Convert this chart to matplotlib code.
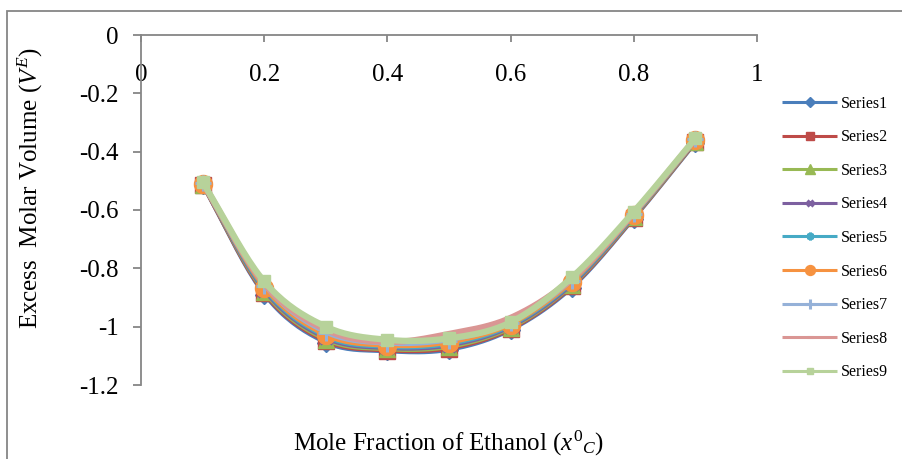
import numpy as np
import matplotlib
matplotlib.use("Agg")
import matplotlib.pyplot as plt
from matplotlib.patches import Rectangle


# ==========================================================
# Data
# ==========================================================

x_frac = [0.1, 0.2, 0.3, 0.4, 0.5, 0.6, 0.7, 0.8, 0.9]

series1 = [-0.515, -0.890, -1.055, -1.085, -1.080, -1.012, -0.866, -0.630, -0.370]
series2 = [-0.515, -0.886, -1.050, -1.082, -1.075, -1.009, -0.862, -0.628, -0.368]
series3 = [-0.513, -0.881, -1.045, -1.078, -1.070, -1.005, -0.858, -0.625, -0.366]
series4 = [-0.512, -0.876, -1.040, -1.074, -1.065, -1.001, -0.855, -0.622, -0.364]
series5 = [-0.511, -0.871, -1.035, -1.070, -1.060, -0.997, -0.850, -0.620, -0.362]
series6 = [-0.510, -0.866, -1.030, -1.066, -1.055, -0.993, -0.846, -0.617, -0.360]
series7 = [-0.508, -0.860, -1.022, -1.060, -1.048, -0.988, -0.842, -0.614, -0.358]
series8 = [-0.506, -0.852, -1.010, -1.052, -1.025, -0.970, -0.835, -0.610, -0.356]
series9 = [-0.504, -0.845, -1.000, -1.045, -1.040, -0.985, -0.830, -0.606, -0.354]

series_names = ["Series1", "Series2", "Series3", "Series4", "Series5",
                "Series6", "Series7", "Series8", "Series9"]
series_values = [series1, series2, series3, series4, series5,
                 series6, series7, series8, series9]

x_ticks = [0, 0.2, 0.4, 0.6, 0.8, 1]
y_ticks = [0, -0.2, -0.4, -0.6, -0.8, -1, -1.2]


# ==========================================================
# Styling
# ==========================================================

colors = ["#4A7EBB", "#BE4B48", "#98B954", "#7D60A0", "#46AAC5",
          "#F69240", "#95B1D8", "#DA9694", "#B7D29A"]
markers = ["D", "s", "^", "x", (6, 2, 0), "o", "+", "_", "s"]
marker_sizes = [9, 11, 12, 9, 10, 13, 12, 9, 9]
line_widths = [2.6, 2.6, 2.6, 2.6, 2.6, 2.6, 2.2, 4.5, 4.5]

plt.rcParams["font.family"] = ["Liberation Serif", "DejaVu Serif"]
plt.rcParams["mathtext.fontset"] = "custom"
plt.rcParams["mathtext.rm"] = "Liberation Serif"
plt.rcParams["mathtext.it"] = "Liberation Serif:italic"

GRAY = "#868686"


def smooth_curve(xs, ys, steps=20):
    """Catmull-Rom smoothing of the drawn line (like Excel's smoothed lines).
    Returns dense x/y; original points sit at every `steps` index."""
    p = np.column_stack([xs, ys]).astype(float)
    p = np.vstack([p[0] - (p[1] - p[0]), p, p[-1] + (p[-1] - p[-2])])
    out = []
    for i in range(1, len(p) - 2):
        p0, p1, p2, p3 = p[i - 1], p[i], p[i + 1], p[i + 2]
        t = np.linspace(0, 1, steps, endpoint=False)[:, None]
        seg = 0.5 * ((2 * p1) + (-p0 + p2) * t
                     + (2 * p0 - 5 * p1 + 4 * p2 - p3) * t ** 2
                     + (-p0 + 3 * p1 - 3 * p2 + p3) * t ** 3)
        out.append(seg)
    out.append(p[-2][None, :])
    out = np.vstack(out)
    return out[:, 0], out[:, 1]


# ==========================================================
# Figure
# ==========================================================

fig = plt.figure(figsize=(9.02, 4.59), dpi=100)
fig.patches.append(Rectangle((7 / 902, -0.1), 1.2, 1 - 11 / 459 + 0.1,
                             transform=fig.transFigure, fill=False,
                             edgecolor=GRAY, linewidth=1.3))

ax = fig.add_axes([141 / 902, 1 - 385 / 459, (757 - 141) / 902, 350 / 459])

steps = 20
for i, (name, vals) in enumerate(zip(series_names, series_values)):
    sx, sy = smooth_curve(x_frac, vals, steps)
    ax.plot(sx, sy, color=colors[i], lw=line_widths[i], label=name,
            marker=markers[i], markevery=steps, markersize=marker_sizes[i],
            markerfacecolor=colors[i], markeredgecolor=colors[i],
            markeredgewidth=2.2 if markers[i] in ("x", "+", "_") or i == 4 else 1,
            zorder=2 + i, solid_capstyle="butt")

ax.set_xlim(0, 1)
ax.set_ylim(-1.2, 0)
ax.set_xticks(x_ticks)
ax.set_xticklabels([f"{v:g}" for v in x_ticks])
ax.set_yticks(y_ticks)
ax.set_yticklabels([f"{v:g}" for v in y_ticks])

for side in ("top", "right"):
    ax.spines[side].set_visible(False)
ax.spines["bottom"].set_position(("data", 0))
for side in ("bottom", "left"):
    ax.spines[side].set_color(GRAY)
    ax.spines[side].set_linewidth(1.3)

ax.tick_params(axis="x", direction="out", length=5, width=1.3, color=GRAY,
               pad=16, labelsize=18)
ax.tick_params(axis="y", direction="out", length=6, width=1.3, color=GRAY,
               pad=10, labelsize=18)

fig.text(30 / 902, 1 - 188 / 459,
         r"Excess  Molar Volume ($\mathit{V}^{\mathit{E}}$)",
         rotation=90, ha="center", va="center", fontsize=18)
fig.text(449 / 902, 1 - 451 / 459,
         r"Mole Fraction of Ethanol ($\mathit{x}^{\mathit{0}}{}_{\mathit{C}}$)",
         ha="center", va="baseline", fontsize=18)

leg = ax.legend(loc="center left", bbox_to_anchor=(776 / 902, 1 - 238 / 459),
                bbox_transform=fig.transFigure, frameon=False, fontsize=11.5,
                handlelength=3.4, handletextpad=0.25, labelspacing=1.1,
                markerscale=0.55, borderaxespad=0)
for h in leg.legend_handles:
    h.set_linewidth(2.2)

fig.savefig("out.png", dpi=100)
